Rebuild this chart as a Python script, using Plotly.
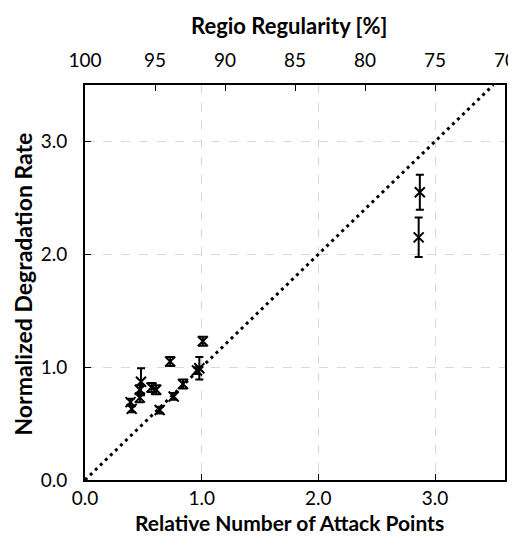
import plotly.graph_objects as go

# Data
attack_points = [0.39, 0.40, 0.48, 0.47, 0.47, 0.57, 0.61, 0.64, 0.73, 0.76, 0.84, 0.96, 0.98, 1.01, 2.87, 2.86]
degradation = [0.69, 0.63, 0.87, 0.80, 0.73, 0.82, 0.80, 0.62, 1.05, 0.74, 0.85, 0.97, 0.99, 1.23, 2.55, 2.15]
degradation_err = [0.03, 0.03, 0.12, 0.04, 0.04, 0.04, 0.04, 0.03, 0.04, 0.03, 0.04, 0.03, 0.10, 0.04, 0.155, 0.175]

ref_line_x = [0.0, 3.5]
ref_line_y = [0.0, 3.5]

bottom_ticks = [0.0, 1.0, 2.0, 3.0]
left_ticks = [0.0, 1.0, 2.0, 3.0]
top_ticks = [100, 95, 90, 85, 80, 75, 70]

x_title = "Relative Number of Attack Points"
x2_title = "Regio Regularity [%]"
y_title = "Normalized Degradation Rate"

FONT = "Lato"

fig = go.Figure()

fig.add_trace(go.Scatter(
    x=ref_line_x, y=ref_line_y, mode="lines",
    line=dict(color="black", width=3, dash="3px,4px"),
    showlegend=False, hoverinfo="skip",
))

fig.add_trace(go.Scatter(
    x=attack_points, y=degradation, mode="markers",
    marker=dict(symbol="x-thin", size=10, line=dict(width=2, color="black"), color="black"),
    error_y=dict(type="data", array=degradation_err, visible=True, color="black", thickness=2, width=4),
    showlegend=False,
))

# invisible trace for the top axis
fig.add_trace(go.Scatter(x=[100, 70], y=[None, None], xaxis="x2", mode="markers",
                         showlegend=False, hoverinfo="skip"))

axis_font = dict(family=FONT, size=19, color="black")
title_font = dict(family=FONT, size=22, color="black", weight="bold")
xtitle_font = dict(family=FONT, size=21, color="black", weight="bold")
ytitle_font = dict(family=FONT, size=23, color="black", weight="bold")

fig.update_layout(
    width=516, height=537,
    margin=dict(l=77, r=19, t=77, b=65),
    paper_bgcolor="white", plot_bgcolor="white",
    font=dict(family=FONT, color="black"),
    xaxis=dict(
        range=[0, 3.6], tickvals=bottom_ticks, tickformat=".1f",
        ticks="inside", ticklen=6, tickwidth=1, tickcolor="black",
        showline=True, linecolor="black", linewidth=2,
        showgrid=True, gridcolor="#d9d9d9", griddash="dash", gridwidth=1,
        zeroline=False, tickfont=axis_font, automargin=False,
        ticklabelstandoff=0,
    ),
    xaxis2=dict(
        overlaying="x", side="top", range=[100, 70], tickvals=top_ticks,
        ticks="inside", ticklen=6, tickwidth=1, tickcolor="black",
        showline=True, linecolor="black", linewidth=2,
        showgrid=False, zeroline=False, tickfont=axis_font, automargin=False,
        ticklabelstandoff=8,
    ),
    yaxis=dict(
        range=[0, 3.5], tickvals=left_ticks, tickformat=".1f",
        ticks="inside", ticklen=6, tickwidth=1, tickcolor="black",
        showline=True, linecolor="black", linewidth=2, mirror=True,
        showgrid=True, gridcolor="#d9d9d9", griddash="dash", gridwidth=1,
        zeroline=False, tickfont=axis_font, automargin=False,
        ticklabelstandoff=12,
    ),
    annotations=[
        dict(text=x_title, font=xtitle_font, xref="paper", yref="paper",
             x=0.5, y=0, xanchor="center", yanchor="middle", xshift=-6, yshift=-42,
             showarrow=False),
        dict(text=x2_title, font=title_font, xref="paper", yref="paper",
             x=0.5, y=1, xanchor="center", yanchor="middle", xshift=-6, yshift=60,
             showarrow=False),
        dict(text=y_title, font=ytitle_font, xref="paper", yref="paper", textangle=-90,
             x=0, y=0.5, xanchor="center", yanchor="middle", xshift=-63, yshift=-2,
             showarrow=False),
    ],
)

fig.write_html("out.html")
